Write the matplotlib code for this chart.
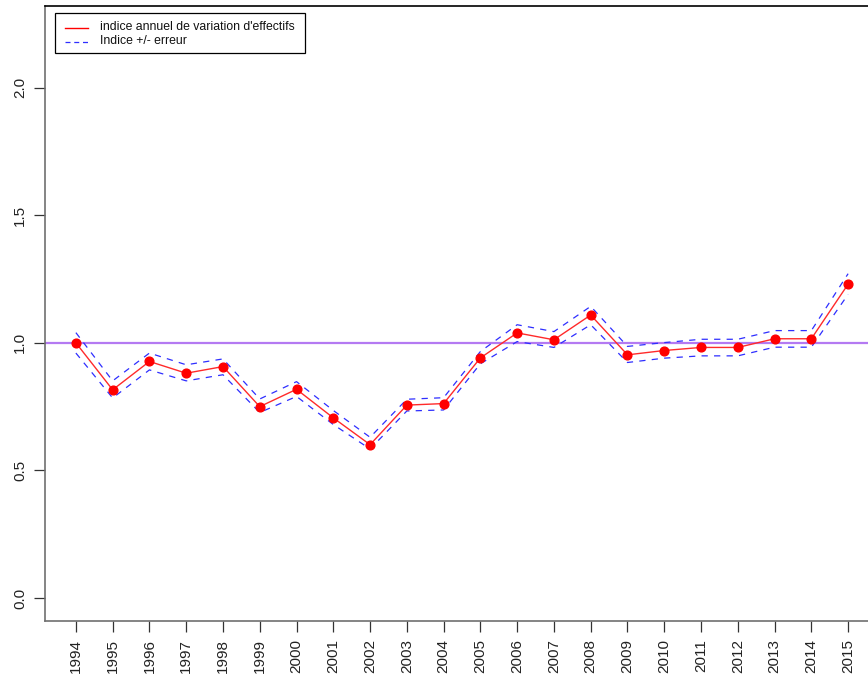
import numpy as np
import matplotlib.pyplot as plt
from matplotlib.lines import Line2D
from matplotlib.patches import Rectangle

plt.rcParams['font.family'] = ['Liberation Sans', 'DejaVu Sans']

years = list(range(1994, 2016))
indice = [1.000, 0.816, 0.927, 0.881, 0.907, 0.750, 0.818, 0.706, 0.601, 0.756, 0.762,
          0.941, 1.039, 1.012, 1.109, 0.953, 0.970, 0.982, 0.982, 1.016, 1.016, 1.230]
upper = [1.040, 0.851, 0.960, 0.914, 0.937, 0.780, 0.848, 0.735, 0.630, 0.779, 0.785,
         0.966, 1.071, 1.044, 1.143, 0.986, 1.001, 1.014, 1.014, 1.048, 1.048, 1.271]
lower = [0.960, 0.784, 0.894, 0.851, 0.875, 0.727, 0.790, 0.680, 0.584, 0.733, 0.737,
         0.918, 1.005, 0.982, 1.071, 0.923, 0.940, 0.949, 0.949, 0.983, 0.983, 1.190]
legend_labels = ["indice annuel de variation d'effectifs", 'Indice +/- erreur']

W, H = 868, 677
fig = plt.figure(figsize=(W / 100, H / 100), dpi=100)
# axes box: left 45px, top 6px, bottom 621px, right edge falls outside the image
ax = fig.add_axes([45 / W, 1 - 621 / H, (879 - 45) / W, 615 / H])

ax.axhline(1.0, color='#B47AF2', lw=1.6, zorder=1)
ax.plot(years, upper, color='#2E2EFF', lw=0.9, dashes=(5, 5), zorder=2)
ax.plot(years, lower, color='#2E2EFF', lw=0.9, dashes=(5, 5), zorder=2)
ax.plot(years, indice, color='#FF2A2A', lw=1.0, zorder=3)
ax.plot(years, indice, 'o', color='#FF0000', ms=6.3, mec='#FF0000', zorder=4)

ax.set_xlim(1993.16, 2015.84)
ax.set_ylim(-0.09, 2.32)
ax.set_xticks(years)
ax.set_xticklabels([str(y) for y in years], rotation=90, fontsize=11, color='#222222')
ax.set_yticks([0.0, 0.5, 1.0, 1.5, 2.0])
ax.set_yticklabels(['0.0', '0.5', '1.0', '1.5', '2.0'], rotation=90, va='center',
                   fontsize=11, color='#222222')
ax.tick_params(direction='out', length=8, width=0.9, color='#333333', pad=5)

for s in ['left', 'bottom']:
    ax.spines[s].set_color('#707070')
    ax.spines[s].set_linewidth(1.2)
ax.spines['top'].set_color('black')
ax.spines['top'].set_linewidth(1.2)
ax.spines['right'].set_visible(False)

# legend box drawn by hand, R style
def fx(px):
    return px / W

def fy(py):
    return 1 - py / H

fig.add_artist(Rectangle((fx(55), fy(53)), fx(305) - fx(55), fy(13) - fy(53),
                         transform=fig.transFigure, fill=True, facecolor='white',
                         edgecolor='black', lw=0.9, zorder=5))
fig.add_artist(Line2D([fx(65), fx(88)], [fy(27.5), fy(27.5)], transform=fig.transFigure,
                      color='#FF0000', lw=1.0, zorder=6))
fig.add_artist(Line2D([fx(65), fx(88)], [fy(41.5), fy(41.5)], transform=fig.transFigure,
                      color='#2E2EFF', lw=0.9, dashes=(4, 3), zorder=6))
for lab, py in zip(legend_labels, [27.5, 41.5]):
    fig.text(fx(100), fy(py), lab, fontsize=8.8, va='center', ha='left',
             color='#111111', zorder=6)

plt.savefig('out.png', dpi=100)
